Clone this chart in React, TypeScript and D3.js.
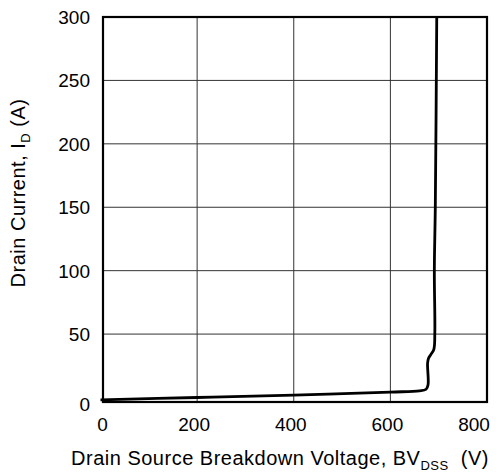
import React, { useEffect, useRef } from 'react';
import * as d3 from 'd3';

// breakdown curve
const voltage = [0, 200, 400, 600, 660, 674, 678, 677, 679, 684, 690, 692, 691, 693, 696];
const current = [-1.8, 0, 1.8, 4.3, 5.2, 6.5, 10, 27, 31, 34, 38, 51, 100, 150, 300];
const xTicks = [0, 200, 400, 600, 800];
const yTicks = [0, 50, 100, 150, 200, 250, 300];

const App = () => {
  const ref = useRef<SVGSVGElement>(null);

  useEffect(() => {
    const svg = d3.select(ref.current);
    svg.selectAll('*').remove();

    const x = d3.scaleLinear().domain([0, 800]).range([100.5, 487]);
    const y = d3.scaleLinear().domain([0, 300]).range([397.5, 17]);
    const font = 'Liberation Sans, Arial, sans-serif';

    // frame is a little larger than the data area at left and bottom
    const fx0 = 103, fx1 = 487, fy0 = 17, fy1 = 402;

    const grid = svg.append('g').attr('stroke', '#333').attr('stroke-width', 1);
    xTicks.slice(1, -1).forEach(t => {
      grid.append('line').attr('x1', x(t)).attr('x2', x(t)).attr('y1', fy0).attr('y2', fy1);
    });
    yTicks.slice(1, -1).forEach(t => {
      grid.append('line').attr('x1', fx0).attr('x2', fx1).attr('y1', y(t)).attr('y2', y(t));
    });

    const pts = voltage.map((v, i) => [v, current[i]] as [number, number]);
    const line = d3.line<[number, number]>()
      .x(d => x(d[0]))
      .y(d => y(d[1]))
      .curve(d3.curveCatmullRom.alpha(0.5));

    svg.append('path')
      .datum(pts)
      .attr('fill', 'none')
      .attr('stroke', '#000')
      .attr('stroke-width', 2.8)
      .attr('stroke-linejoin', 'round')
      .attr('d', line);

    svg.append('rect')
      .attr('x', fx0).attr('y', fy0)
      .attr('width', fx1 - fx0).attr('height', fy1 - fy0)
      .attr('fill', 'none').attr('stroke', '#000').attr('stroke-width', 2.2);

    // tick labels (ends pulled inward like the original)
    const xShift = (d: number) => (d === 0 ? 2 : d === 800 ? -13 : -3);
    svg.append('g').selectAll('text').data(xTicks).join('text')
      .attr('x', d => x(d) + xShift(d))
      .attr('y', 431)
      .attr('text-anchor', 'middle')
      .style('font-family', font).style('font-size', '19px')
      .text(d => d);

    svg.append('g').selectAll('text').data(yTicks).join('text')
      .attr('x', 90)
      .attr('y', d => (d === 0 ? 404 : y(d)) + 7)
      .attr('text-anchor', 'end')
      .style('font-family', font).style('font-size', '19px')
      .text(d => d);

    // x title
    const xt = svg.append('text')
      .attr('x', 280).attr('y', 465)
      .attr('text-anchor', 'middle')
      .style('font-family', font).style('font-size', '20px')
      .style('letter-spacing', '0.5px');
    xt.append('tspan').text('Drain Source Breakdown Voltage, BV');
    xt.append('tspan').attr('dy', 5).style('font-size', '13px').text('DSS');
    xt.append('tspan').attr('dy', -5).text('\u00a0 (V)');

    // y title
    const yt = svg.append('text')
      .attr('transform', 'translate(25, 193) rotate(-90)')
      .attr('text-anchor', 'middle')
      .style('font-family', font).style('font-size', '20px')
      .style('letter-spacing', '0.5px');
    yt.append('tspan').text('Drain Current, I');
    yt.append('tspan').attr('dy', 5).style('font-size', '13px').text('D');
    yt.append('tspan').attr('dy', -5).text(' (A)');
  }, []);

  return (
    <svg ref={ref} width={496} height={474}
      style={{ position: 'absolute', left: 0, top: 0, background: '#fff' }} />
  );
};

export default App;
